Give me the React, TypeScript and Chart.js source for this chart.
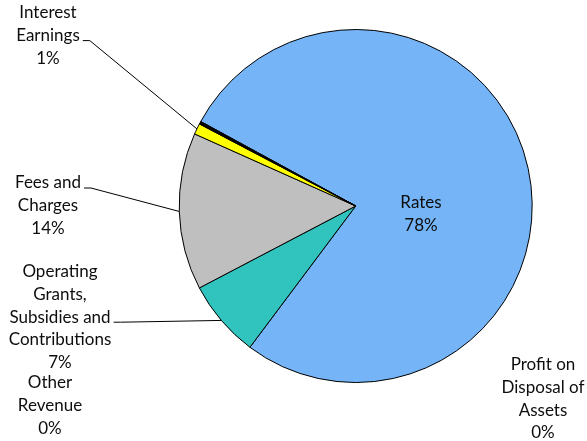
import React, { useEffect, useRef } from 'react';
import { Chart, registerables } from 'chart.js';

Chart.register(...registerables);

const categories = [
  'Rates',
  'Operating Grants, Subsidies and Contributions',
  'Fees and Charges',
  'Interest Earnings',
  'Other Revenue',
  'Profit on Disposal of Assets',
];
const values = [77.4, 7.1, 14.4, 1.0, 0.15, 0.1];
const percentLabels = ['78%', '7%', '14%', '1%', '0%', '0%'];
const labelLines = [
  ['Rates'],
  ['Operating', 'Grants,', 'Subsidies and', 'Contributions'],
  ['Fees and', 'Charges'],
  ['Interest', 'Earnings'],
  ['Other', 'Revenue'],
  ['Profit on', 'Disposal of', 'Assets'],
];
const colors = ['#75B4F6', '#31C3BE', '#BFBFBF', '#FFFF00', '#000000', '#000000'];

// label placement: centre x, first-line centre y, line used for leader (-1 = none)
const labelLayout = [
  { cx: 421, y0: 203, leader: -1 },
  { cx: 60, y0: 272, leader: 2 },
  { cx: 48, y0: 183, leader: 0 },
  { cx: 48, y0: 13, leader: 1 },
  { cx: 50, y0: 383, leader: -1 },
  { cx: 543, y0: 365, leader: -1 },
];
const LINE_H = 22.6;
const FONT = '17px Lato';

const labelPlugin = {
  id: 'pieLabels',
  afterDatasetsDraw(chart: any) {
    const ctx = chart.ctx as CanvasRenderingContext2D;
    const meta = chart.getDatasetMeta(0);
    ctx.save();
    ctx.font = FONT;
    ctx.fillStyle = '#0d0d0d';
    ctx.textAlign = 'center';
    ctx.textBaseline = 'middle';
    labelLayout.forEach((lay, i) => {
      const lines = [...labelLines[i], percentLabels[i]];
      lines.forEach((t, k) => {
        ctx.fillText(t, lay.cx, lay.y0 + k * LINE_H);
      });
      if (lay.leader >= 0) {
        const arc = meta.data[i];
        const { x, y, startAngle, endAngle, outerRadius } = arc.getProps(
          ['x', 'y', 'startAngle', 'endAngle', 'outerRadius'],
          true
        );
        const mid = (startAngle + endAngle) / 2;
        const ex = x + Math.cos(mid) * outerRadius;
        const ey = y + Math.sin(mid) * outerRadius;
        const w = ctx.measureText(lines[lay.leader]).width;
        const sx = lay.cx + w / 2 + 3;
        const sy = lay.y0 + lay.leader * LINE_H + 5;
        ctx.beginPath();
        ctx.strokeStyle = '#000000';
        ctx.lineWidth = 1;
        ctx.moveTo(sx, sy);
        ctx.lineTo(sx + 7, sy);
        ctx.lineTo(ex, ey);
        ctx.stroke();
      }
    });
    ctx.restore();
  },
};

export default function App() {
  const ref = useRef<HTMLCanvasElement>(null);
  useEffect(() => {
    if (!ref.current) return;
    const chart = new Chart(ref.current, {
      type: 'pie',
      data: {
        labels: categories,
        datasets: [
          {
            data: values,
            backgroundColor: colors,
            borderColor: '#000000',
            borderWidth: 1,
          },
        ],
      },
      options: {
        responsive: false,
        animation: false,
        rotation: 298.6,
        layout: { padding: { left: 178.7, right: 54.3, top: 29, bottom: 58 } },
        plugins: {
          legend: { display: false },
          tooltip: { enabled: false },
        },
      },
      plugins: [labelPlugin],
    });
    return () => chart.destroy();
  }, []);
  return (
    <div style={{ position: 'absolute', left: 0, top: 0, width: 587, height: 441, background: '#fff' }}>
      <canvas ref={ref} width={587} height={441} />
    </div>
  );
}
